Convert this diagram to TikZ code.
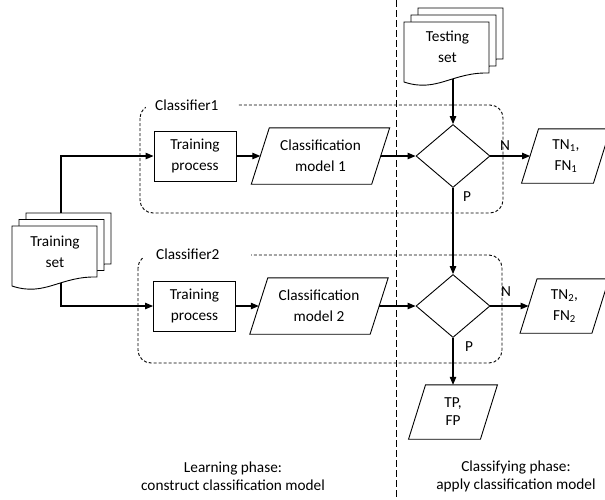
\documentclass[tikz,border=0pt]{standalone}
\usepackage{fontspec}
\setmainfont{Carlito}
\usetikzlibrary{shapes.geometric,arrows.meta}
\newcommand\docpath[2]{(#1,#2) -- (#1+85,#2) -- (#1+85,#2+51) .. controls (#1+48,#2+50) and (#1+33,#2+71) .. (#1,#2+60) -- cycle}
\newcommand\parashape[2]{\draw[shp] ([xshift=#2]#1.north west) -- ([xshift=#2]#1.north east) -- ([xshift=-#2]#1.south east) -- ([xshift=-#2]#1.south west) -- cycle;}
\begin{document}
\begin{tikzpicture}[x=1pt,y=-1pt,
  every node/.style={font=\fontsize{15.3}{21}\selectfont, align=center, inner sep=0pt},
  shp/.style={line width=0.9pt},
  box/.style={shp, draw, minimum width=82pt, minimum height=50pt},
  pbox/.style={minimum width=120pt, minimum height=56pt},
  sbox/.style={minimum width=71.5pt, minimum height=54pt},
  dia/.style={shp, draw, diamond, minimum width=74pt, minimum height=63pt},
  arr/.style={line width=1.1pt, -{Triangle[length=8pt,width=6.5pt]}},
  grp/.style={line width=0.9pt, dash pattern=on 3pt off 2pt, rounded corners=13pt},
  phase/.style={line width=1pt, dash pattern=on 7pt off 3pt},
  tight/.style={font=\fontsize{15.3}{18}\selectfont}
]
\useasboundingbox (0,0) rectangle (605,499);

% phase separator
\draw[phase] (396,0) -- (396,499);

% groups
\draw[grp] (140,105) rectangle (503,213);
\fill[white] (146,98) rectangle (237,112);
\node[anchor=west] (g1) at (155,105) {Classifier1};
\draw[grp] (138,255) rectangle (502,363);
\fill[white] (144,248) rectangle (251,262);
\node[anchor=west] (g2) at (156,254) {Classifier2};

% training set document stack
\filldraw[shp, fill=white] \docpath{26}{213};
\filldraw[shp, fill=white] \docpath{19}{219.5};
\filldraw[shp, fill=white] \docpath{12}{226};
\node (trs) at (55,252) {Training\\set};
\coordinate (trtop) at (61,213);
\coordinate (trbot) at (61,283);

% testing set document stack
\filldraw[shp, fill=white] \docpath{418}{8};
\filldraw[shp, fill=white] \docpath{411}{15};
\filldraw[shp, fill=white] \docpath{404}{22};
\node (tes) at (447.5,47) {Testing\\set};
\coordinate (tebot) at (453,79);

% row 1
\node[box] (tp1) at (195,156) {Training\\process};
\node[pbox] (cm1) at (320.5,156) {Classification\\model 1};
\parashape{cm1}{9pt}
\node[dia] (d1) at (453,156) {};
\node[sbox] (tn1) at (566,156) {TN\textsubscript{1},\\FN\textsubscript{1}};
\parashape{tn1}{8.5pt}

% row 2
\node[box] (tp2) at (194.5,306) {Training\\process};
\node[pbox] (cm2) at (319,306) {Classification\\model 2};
\parashape{cm2}{9pt}
\node[dia] (d2) at (453,306) {};
\node[sbox] (tn2) at (564.5,306) {TN\textsubscript{2},\\FN\textsubscript{2}};
\parashape{tn2}{8.5pt}

% result
\node[sbox, tight] (tp) at (453,412) {TP,\\FP};
\parashape{tp}{8.5pt}

% branch labels
\node (n1) at (505,146) {N};
\node (p1) at (467,197) {P};
\node (n2) at (506,292) {N};
\node (p2) at (469,347) {P};

% connectors
\draw[arr] (trtop) |- (tp1.west);
\draw[arr] (trbot) |- (tp2.west);
\draw[arr] (tp1.east) -- (cm1.west);
\draw[arr] (cm1.east) -- (d1.west);
\draw[arr] (d1.east) -- (tn1.west);
\draw[arr] (tebot) -- (d1.north);
\draw[arr] (d1.south) -- (d2.north);
\draw[arr] (tp2.east) -- (cm2.west);
\draw[arr] (cm2.east) -- (d2.west);
\draw[arr] (d2.east) -- (tn2.west);
\draw[arr] (d2.south) -- (tp.north);

% phase captions
\node[tight] (lp) at (233,476.5) {Learning phase:\\construct classification model};
\node[tight] (cp) at (516,476.5) {Classifying phase:\\apply classification model};
\end{tikzpicture}
\end{document}
